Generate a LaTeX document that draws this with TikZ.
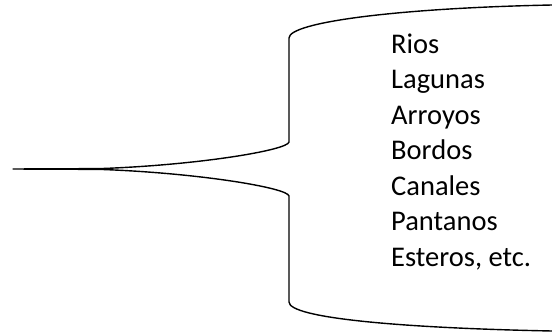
\documentclass[tikz,border=0pt]{standalone}
\usepackage{fontspec}
\setmainfont{Carlito}
\begin{document}
\begin{tikzpicture}[x=1pt,y=-1pt,
  item/.style={anchor=base west,inner sep=0pt,font=\fontsize{28.5}{34}\selectfont},
  brace/.style={draw=black,line width=1.4pt,line join=round}]
\useasboundingbox (0,0) rectangle (552,332);
\path[brace] (552,5) .. controls (400,8) and (289,22) .. (289,38)
  -- (289,142) .. controls (288,150) and (200,165) .. (100,168.6)
  -- (13,169) -- (100,169.4) .. controls (200,173) and (288,188) .. (289,196)
  -- (289,302) .. controls (289,318) and (400,328) .. (552,331);
\node[item] (r1) at (391,53) {Rios};
\node[item] (r2) at (391,88.5) {Lagunas};
\node[item] (r3) at (391,124) {Arroyos};
\node[item] (r4) at (391,159.5) {Bordos};
\node[item] (r5) at (391,195) {Canales};
\node[item] (r6) at (391,230.5) {Pantanos};
\node[item] (r7) at (391,266) {Esteros, etc.};
\end{tikzpicture}
\end{document}
